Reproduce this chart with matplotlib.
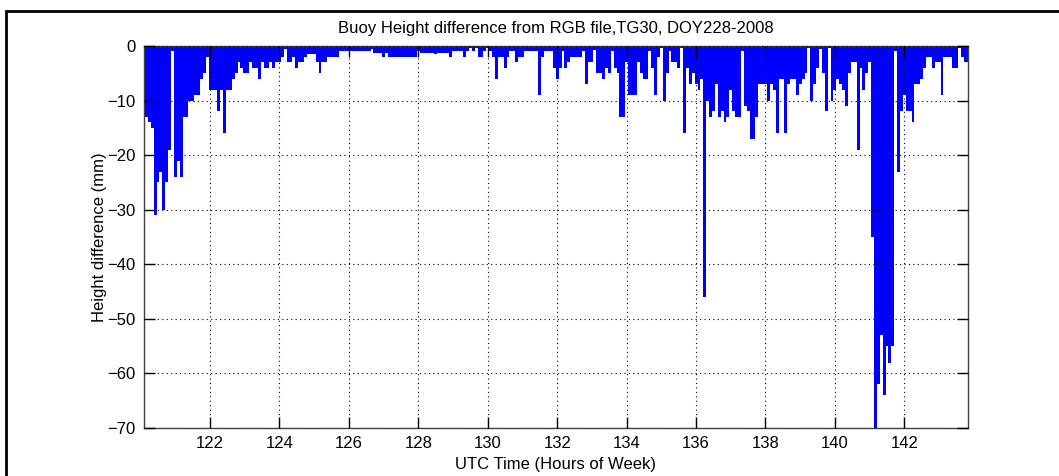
import numpy as np
import matplotlib
matplotlib.use("Agg")
import matplotlib.pyplot as plt
from matplotlib.patches import Rectangle

plt.rcParams['font.family'] = ['Liberation Sans', 'DejaVu Sans']

# 5-minute epochs, hours of week 120:05 .. 143:50
t_start = 120 + 5 / 60.0
t_step = 5 / 60.0

# height difference (mm), one row per hour
height_diff = [
    -12, -13, -14, -15, -31, -25, -23, -30, -25, -19, -1, -24,
    -21, -24, -13, -13, -10, -10, -9, -9, -6, -5, -2, -8,
    -8, -8, -12, -8, -16, -8, -8, -6, -5, -3, -4, -5,
    -5, -3, -4, -4, -6, -3, -4, -4, -3, -4, -3, -3,
    -2, -0.5, -3, -3, -2, -4, -3, -3, -2, -1.5, -1.5, -1.5,
    -3, -5, -3, -3, -2, -2, -2, -2, -1, -1, -1, -1,
    -1, -1, -1, -1, -1, -1, -1, -0.5, -1.2, -1.2, -1.2, -2,
    -1.2, -2, -2, -2, -2, -2, -2, -2, -2, -2, -2, -1,
    -1.2, -1.2, -1.2, -1.2, -1.2, -1.5, -1.2, -1.2, -1.2, -1.2, -2, -1,
    -1, -1, -1, -2, -1, -0.3, -1, -0.3, -2, -2, -1, -0.3,
    -1, -2, -6, -2, -2, -4, -2, -1, -1, -3, -2, -2,
    -1, -1, -1, -1, -1, -9, -2, -1, -1, -1, -4, -6,
    -4, -1, -4, -3, -2, -2, -2, -2, -1, -7, -3, -3,
    -0.7, -5, -5, -6, -4, -5, -1, -4, -5, -13, -13, -3,
    -9, -9, -9, -3, -5, -6, -6, -1, -4, -9, -2, -0.3,
    -10, -5, -1, -3, -3, -4, -0.3, -16, -4, -7, -5, -7,
    -8, -6, -46, -10, -13, -12, -7, -13, -12, -14, -13, -8,
    -12, -13, -13, -1, -11, -12, -17, -17, -13, -7, -7, -7,
    -10, -7, -8, -16, -6, -6, -16, -7, -6, -6, -9, -7,
    -6, -5, -0.3, -10, -7, -4, -0.5, -5, -12, -0.3, -10, -8,
    -6, -7, -8, -11, -5, -3, -3, -19, -4, -8, -5, -3,
    -35, -70, -62, -53, -64, -55, -58, -55, -1, -23, -12, -9,
    -12, -12, -14, -7, -7, -6, -4, -2, -2, -4, -3, -3,
    -9, -2, -2, -2, -4, -4, -0.3, -2, -3, -3,
]

x_ticks = [122, 124, 126, 128, 130, 132, 134, 136, 138, 140, 142]
y_ticks = [0, -10, -20, -30, -40, -50, -60, -70]

hours = t_start + t_step * np.arange(len(height_diff))

fig = plt.figure(figsize=(10.59, 4.76), dpi=100)
ax = fig.add_axes([143.5 / 1059, 1 - 428 / 476, (968 - 143.5) / 1059, (428 - 46) / 476])

ax.bar(hours, height_diff, width=t_step, color='#0000ff', edgecolor='none', align='center')

ax.set_xlim(hours[0], hours[-1])
ax.set_ylim(-70, 0)
ax.set_xticks(x_ticks)
ax.set_yticks(y_ticks)

# matlab style grid / box
ax.grid(True, color='black', linestyle=(0, (1, 3)), linewidth=0.8)
ax.set_axisbelow(False)
for s in ax.spines.values():
    s.set_color('#404040')
    s.set_linewidth(1.0)
ax.tick_params(direction='in', length=8, width=1, color='black',
               top=True, right=True, labelsize=12, pad=6)

ax.set_title('Buoy Height difference from RGB file,TG30, DOY228-2008', fontsize=12, pad=9)
ax.set_xlabel('UTC Time (Hours of Week)', fontsize=12, labelpad=4)
ax.set_ylabel('Height difference (mm)', fontsize=12, labelpad=0)

# figure frame (cut off at right/bottom)
fig.patches.append(Rectangle((6 / 1059, -0.1), 1.2, 1.1 - 11 / 476,
                             transform=fig.transFigure, fill=False,
                             edgecolor='black', linewidth=2))

fig.savefig('out.png', dpi=100)
